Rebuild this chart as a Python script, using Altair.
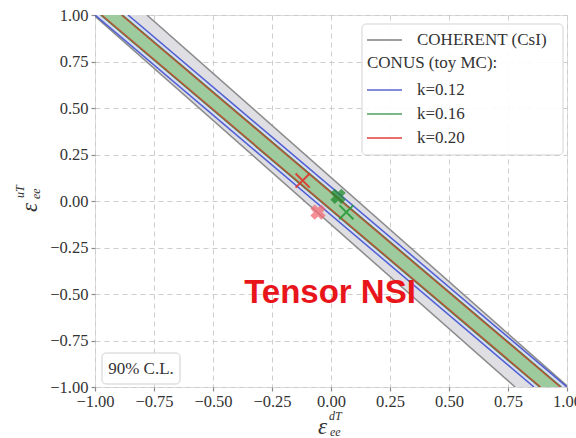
import altair as alt
import pandas as pd

# ---------------- data ----------------
ticks = [-1.0, -0.75, -0.5, -0.25, 0.0, 0.25, 0.5, 0.75, 1.0]

# band edges: d-value where each edge meets u=+1 (top) and u=-1 (bottom)
band_keys = ["coherent", "k012", "k016", "k020"]
band_left_top = [-1.006, -1.000, -0.976, -0.972]
band_right_top = [-0.780, -0.860, -0.884, -0.888]
band_left_bot = [0.780, 0.860, 0.884, 0.888]
band_right_bot = [1.006, 1.000, 0.976, 0.972]
band_line_colors = ["#7f7f7f", "#3f51cf", "#2e8a35", "#c8402a"]
band_fill_colors = ["#dedee3", "#d9dcf4", "#9dcb9e", None]
band_line_opacity = [0.9, 0.9, 0.85, 0.8]

# best-fit markers
mark_d = [-0.12, -0.055, 0.03, 0.065]
mark_u = [0.11, -0.06, 0.025, -0.06]
mark_kind = ["thin", "bold", "bold", "thin"]
mark_color = ["#e0352e", "#f26a74", "#1d8a2c", "#2a9a3a"]

legend_labels = ["COHERENT (CsI)", "CONUS (toy MC):", "k=0.12", "k=0.16", "k=0.20"]
legend_colors = ["#7f7f7f", None, "#5a66d0", "#4ea25a", "#e0403a"]

# ---------------- build chart ----------------
W, H = 472, 372
SERIF = "Liberation Serif"
xs = alt.Scale(domain=[-1, 1], nice=False)
ys = alt.Scale(domain=[-1, 1], nice=False)

layers = []
for i, key in enumerate(band_keys):
    area_df = pd.DataFrame({
        "u": [1.0, -1.0],
        "lo": [band_left_top[i], band_left_bot[i]],
        "hi": [band_right_top[i], band_right_bot[i]],
    })
    edge_df = pd.DataFrame({
        "edge": ["l", "l", "r", "r"],
        "u": [1.0, -1.0, 1.0, -1.0],
        "d": [band_left_top[i], band_left_bot[i], band_right_top[i], band_right_bot[i]],
    })
    if band_fill_colors[i]:
        layers.append(
            alt.Chart(area_df).mark_area(orient="horizontal", color=band_fill_colors[i],
                                         opacity=1, clip=True).encode(
                y=alt.Y("u:Q", scale=ys),
                x=alt.X("lo:Q", scale=xs),
                x2="hi:Q",
            )
        )
    layers.append(
        alt.Chart(edge_df).mark_line(color=band_line_colors[i], strokeWidth=1.5,
                                     opacity=band_line_opacity[i], clip=True).encode(
            x=alt.X("d:Q", scale=xs),
            y=alt.Y("u:Q", scale=ys),
            detail="edge:N",
        )
    )

mk = pd.DataFrame({"d": mark_d, "u": mark_u, "kind": mark_kind, "c": mark_color})
layers.append(
    alt.Chart(mk[mk.kind == "bold"]).mark_point(shape="cross", angle=45, filled=True,
                                                size=240, opacity=0.75).encode(
        x=alt.X("d:Q", scale=xs), y=alt.Y("u:Q", scale=ys),
        color=alt.Color("c:N", scale=None),
    )
)
layers.append(
    alt.Chart(mk[mk.kind == "thin"]).mark_point(shape="M-1,-1L1,1M-1,1L1,-1", filled=False,
                                                size=200, strokeWidth=2, opacity=0.9).encode(
        x=alt.X("d:Q", scale=xs), y=alt.Y("u:Q", scale=ys),
        color=alt.Color("c:N", scale=None),
    )
)

one = pd.DataFrame({"a": [0]})

# "Tensor NSI" annotation
layers.append(
    alt.Chart(pd.DataFrame({"t": ["Tensor NSI"]})).mark_text(
        font="Liberation Sans", fontWeight="bold", fontSize=33, color="#e8151b",
        align="center", baseline="alphabetic").encode(
        x=alt.value(235), y=alt.value(288), text="t:N")
)

# 90% C.L. box
layers.append(
    alt.Chart(one).mark_rect(fill="white", stroke="#cfcfcf", strokeWidth=1,
                             cornerRadius=4).encode(
        x=alt.value(7), x2=alt.value(85), y=alt.value(338), y2=alt.value(369))
)
layers.append(
    alt.Chart(pd.DataFrame({"t": ["90% C.L."]})).mark_text(
        font=SERIF, fontSize=17, color="#333", align="center", baseline="middle").encode(
        x=alt.value(46), y=alt.value(354), text="t:N")
)

# legend
layers.append(
    alt.Chart(one).mark_rect(fill="white", opacity=0.9, stroke="#cfcfcf", strokeWidth=1,
                             cornerRadius=4).encode(
        x=alt.value(267), x2=alt.value(468), y=alt.value(9), y2=alt.value(140))
)
row_y = [25, 48, 75, 99, 123]
for lab, col, ry in zip(legend_labels, legend_colors, row_y):
    if col:
        layers.append(
            alt.Chart(one).mark_rule(color=col, strokeWidth=1.5).encode(
                x=alt.value(272), x2=alt.value(307), y=alt.value(ry))
        )
        tx = 322
    else:
        tx = 272
    layers.append(
        alt.Chart(pd.DataFrame({"t": [lab]})).mark_text(
            font=SERIF, fontSize=17, color="#333", align="left", baseline="middle").encode(
            x=alt.value(tx), y=alt.value(ry), text="t:N")
    )

# axis titles (epsilon with super/subscripts)
def txt(s, x, y, size, angle=0):
    return alt.Chart(pd.DataFrame({"t": [s]})).mark_text(
        font=SERIF, fontStyle="italic", fontSize=size, color="#333", align="left",
        baseline="alphabetic", angle=angle).encode(
        x=alt.value(x), y=alt.value(y), text="t:N")

layers.append(txt("ε", 223, 419, 23))
layers.append(txt("dT", 234, 405, 12))
layers.append(txt("ee", 235, 421, 12))
layers.append(txt("ε", -58, 197, 23, 270))
layers.append(txt("uT", -71, 183, 12, 270))
layers.append(txt("ee", -55, 184, 12, 270))

axis_common = dict(
    values=ticks, format=".2f", grid=True, gridDash=[5, 4], gridColor="#cdcdcd",
    gridWidth=1, domain=False, tickColor="#8a8a8a", tickSize=4, tickWidth=1.2,
    labelFont=SERIF, labelFontSize=16.5, labelColor="#333", labelFlush=False,
    labelOverlap=False, title=None,
)

base = alt.Chart(pd.DataFrame({"d": [0.0], "u": [0.0]})).mark_point(opacity=0).encode(
    x=alt.X("d:Q", scale=xs, axis=alt.Axis(labelPadding=2, **axis_common)),
    y=alt.Y("u:Q", scale=ys, axis=alt.Axis(labelPadding=3, **axis_common)),
)

chart = alt.layer(base, *layers).properties(
    width=W, height=H,
    autosize=alt.AutoSizeParams(type="none"),
    padding={"left": 95, "top": 15, "right": 9, "bottom": 51},
).configure_view(stroke="#8a8a8a", strokeWidth=1.6).configure(background="white")

chart.save("out.html", embed_options={"renderer": "svg", "actions": False})
